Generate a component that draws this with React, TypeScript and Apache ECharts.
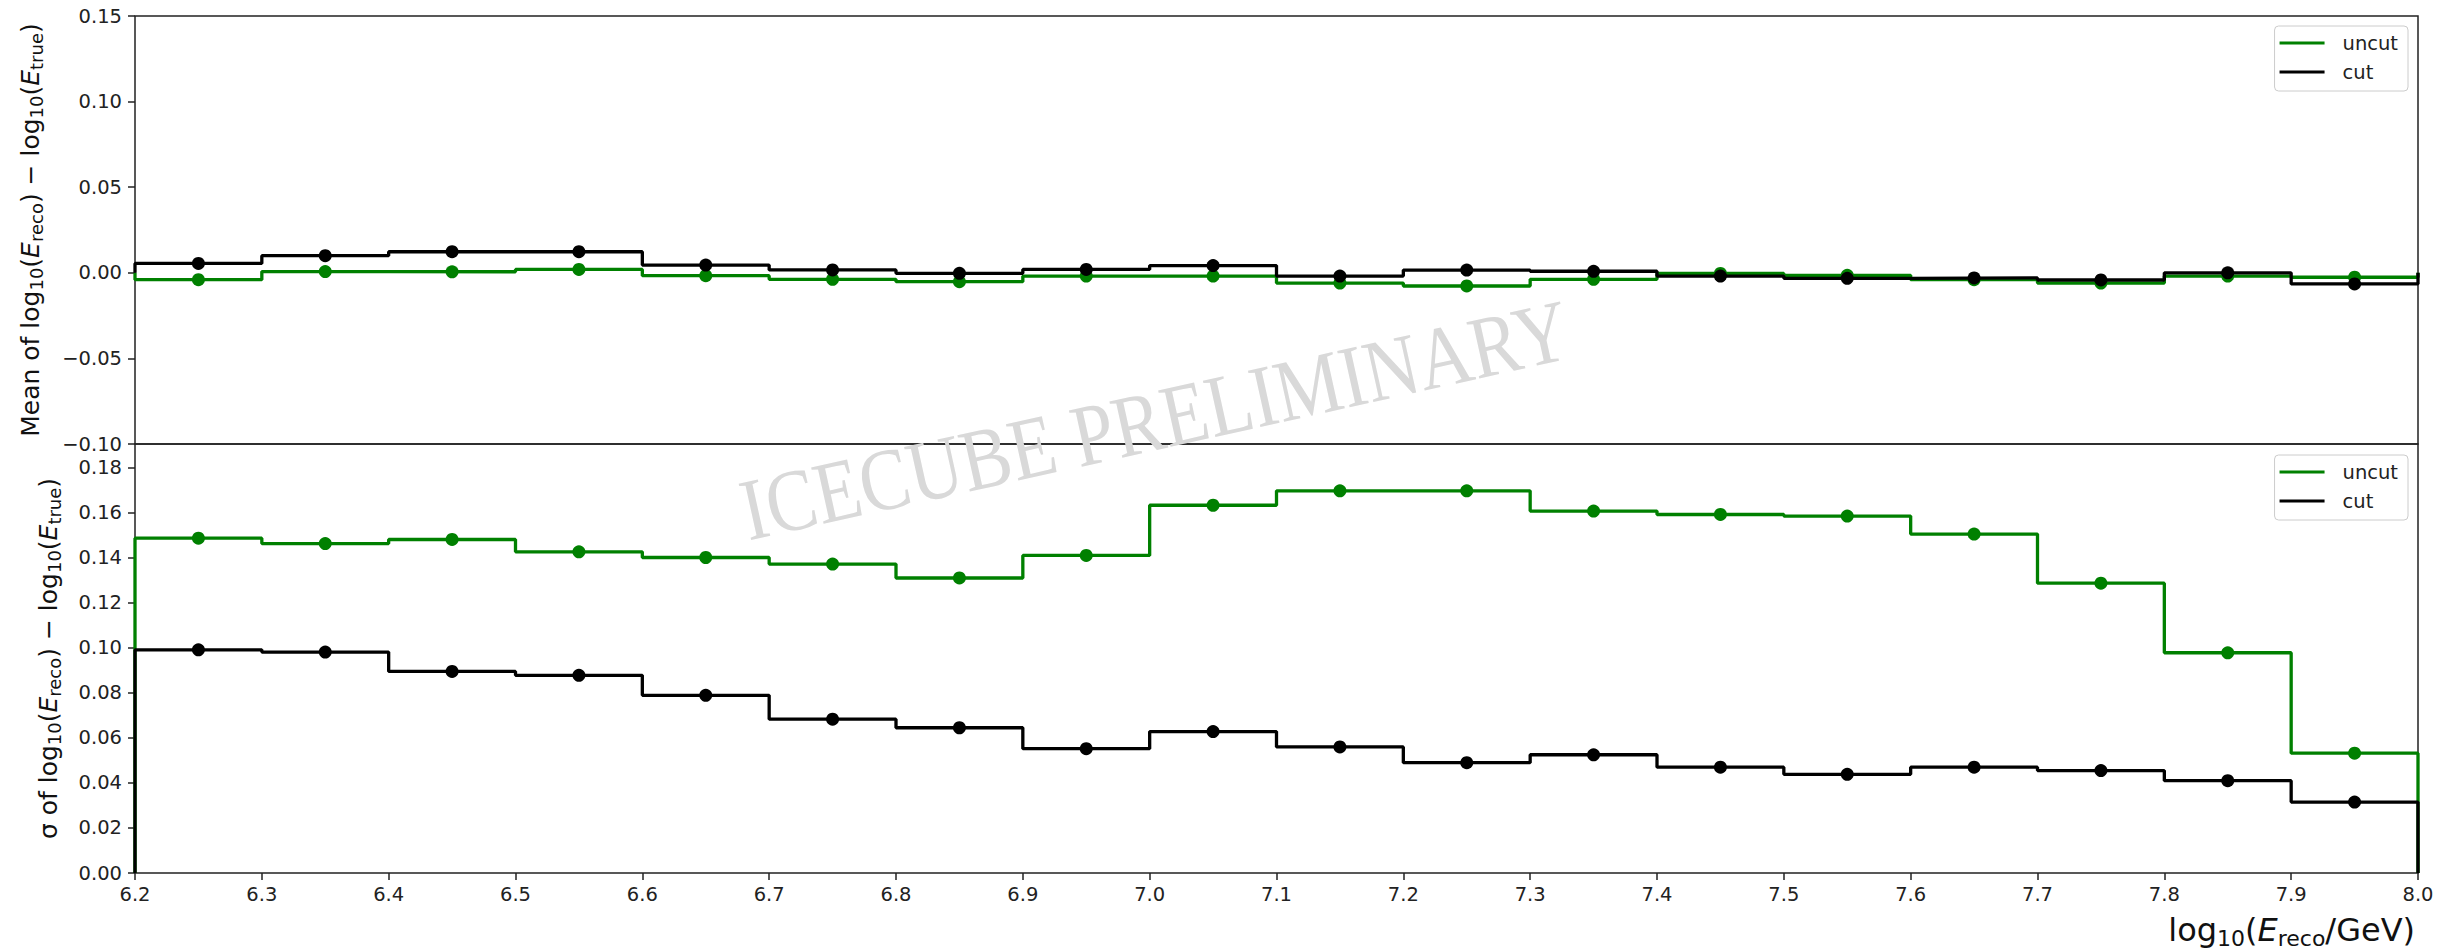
import React, { useEffect, useRef } from "react";
import * as echarts from "echarts";

// ---- data ----
const binCenters = [6.25, 6.35, 6.45, 6.55, 6.65, 6.75, 6.85, 6.95, 7.05, 7.15, 7.25, 7.35, 7.45, 7.55, 7.65, 7.75, 7.85, 7.95];
const binWidth = 0.1;

const meanUncut = [-0.0040, 0.0007, 0.0006, 0.0020, -0.0017, -0.0038, -0.0052, -0.0019, -0.0019, -0.0060, -0.0077, -0.0038, -0.0004, -0.0015, -0.0040, -0.0060, -0.0019, -0.0026];
const meanCut = [0.0055, 0.0100, 0.0123, 0.0123, 0.0045, 0.0017, -0.0003, 0.0020, 0.0042, -0.0019, 0.0016, 0.0009, -0.0019, -0.0032, -0.0030, -0.0042, 0.0000, -0.0065];

const sigmaUncut = [0.1487, 0.1463, 0.1481, 0.1426, 0.1401, 0.1372, 0.1310, 0.1410, 0.1633, 0.1697, 0.1697, 0.1607, 0.1592, 0.1585, 0.1505, 0.1287, 0.0978, 0.0532];
const sigmaCut = [0.0991, 0.0981, 0.0895, 0.0878, 0.0789, 0.0683, 0.0645, 0.0552, 0.0628, 0.0560, 0.0490, 0.0525, 0.0470, 0.0438, 0.0470, 0.0455, 0.0410, 0.0315];

const xTicks = { min: 6.2, max: 8.0, interval: 0.1 };
const meanTicks = { min: -0.1, max: 0.15, interval: 0.05 };
const sigmaTicks = { min: 0, max: 0.1905, interval: 0.02 };

const seriesNames = ["uncut", "cut"];
const seriesColors = ["#008000", "#000000"];
const watermark = "ICECUBE PRELIMINARY";

// histogram outline (step) built from centers and values
function outline(centers: number[], vals: number[], w: number): number[][] {
  const pts: number[][] = [];
  pts.push([centers[0] - w / 2, 0]);
  centers.forEach((c, i) => {
    pts.push([c - w / 2, vals[i]]);
    pts.push([c + w / 2, vals[i]]);
  });
  pts.push([centers[centers.length - 1] + w / 2, 0]);
  return pts;
}
function points(centers: number[], vals: number[]): number[][] {
  return centers.map((c, i) => [c, vals[i]]);
}

const FONT = "DejaVu Sans";
const minusFmt = (v: number, d: number) => {
  const s = Math.abs(v) < 1e-9 ? (0).toFixed(d) : Math.abs(v).toFixed(d);
  return v < -1e-9 ? "\u2212" + s : s;
};

export default function App() {
  const ref = useRef<HTMLDivElement>(null);
  useEffect(() => {
    if (!ref.current) return;
    const chart = echarts.init(ref.current, undefined, { renderer: "svg" });

    const L = 135, R = 35, T = 16, MID = 444, B = 873, W = 2453;

    const tickStyle = { color: "#222", fontSize: 19.5, fontFamily: FONT };
    const grids = [
      { left: L, right: R, top: T, height: MID - T, show: true, borderColor: "#222", borderWidth: 1.5, backgroundColor: "transparent" },
      { left: L, right: R, top: MID, height: B - MID, show: true, borderColor: "#222", borderWidth: 1.5, backgroundColor: "transparent" },
    ];

    const xAxisBase = {
      type: "value",
      min: xTicks.min,
      max: xTicks.max,
      interval: xTicks.interval,
      splitLine: { show: false },
      axisLine: { show: false },
    };

    const yAxisBase = {
      type: "value",
      splitLine: { show: false },
      axisLine: { show: false },
      axisTick: { show: true, inside: false, length: 7, lineStyle: { color: "#222", width: 1.5 } },
    };

    const mkLine = (name: string, color: string, data: number[][], ai: number, z: number) => ({
      type: "line",
      name,
      data,
      xAxisIndex: ai,
      yAxisIndex: ai,
      symbol: "none",
      showSymbol: false,
      lineStyle: { color, width: 3.3 },
      itemStyle: { color },
      z,
      silent: true,
    });
    const mkDots = (name: string, color: string, data: number[][], ai: number, z: number) => ({
      type: "scatter",
      name: name + "-pts",
      data,
      xAxisIndex: ai,
      yAxisIndex: ai,
      symbol: "circle",
      symbolSize: 13,
      itemStyle: { color, opacity: 1 },
      z,
      silent: true,
    });

    const legendBase = {
      orient: "vertical",
      right: 45,
      data: seriesNames,
      selectedMode: false,
      icon: "rect",
      itemWidth: 45,
      itemHeight: 3,
      itemGap: 9,
      padding: [7, 10, 9, 5],
      backgroundColor: "#fff",
      borderColor: "#ccc",
      borderWidth: 1,
      borderRadius: 4,
      textStyle: { color: "#222", fontSize: 19.5, fontFamily: FONT, padding: [0, 0, 0, 13], lineHeight: 20 },
    };

    const mainRich = (fs: number, lh: number) => ({
      a: { fontSize: fs, fontFamily: FONT, fill: "#111", lineHeight: lh, verticalAlign: "middle" },
      i: { fontSize: fs, fontFamily: FONT, fontStyle: "italic", fill: "#111", lineHeight: lh, verticalAlign: "middle" },
      s: { fontSize: Math.round(fs * 0.7), fontFamily: FONT, fill: "#111", lineHeight: Math.round(fs * 0.75), verticalAlign: "bottom" },
    });

    const option: any = {
      animation: false,
      backgroundColor: "#fff",
      grid: grids,
      xAxis: [
        { ...xAxisBase, gridIndex: 0, axisLabel: { show: false }, axisTick: { show: false } },
        {
          ...xAxisBase,
          gridIndex: 1,
          axisTick: { show: true, inside: false, length: 7, lineStyle: { color: "#222", width: 1.5 } },
          axisLabel: { ...tickStyle, margin: 11, formatter: (v: number) => v.toFixed(1) },
        },
      ],
      yAxis: [
        {
          ...yAxisBase,
          gridIndex: 0,
          min: meanTicks.min,
          max: meanTicks.max,
          interval: meanTicks.interval,
          axisLabel: { ...tickStyle, margin: 13, formatter: (v: number) => minusFmt(v, 2) },
        },
        {
          ...yAxisBase,
          gridIndex: 1,
          min: sigmaTicks.min,
          max: sigmaTicks.max,
          interval: sigmaTicks.interval,
          axisLabel: { ...tickStyle, margin: 13, showMaxLabel: false, formatter: (v: number) => v.toFixed(2) },
        },
      ],
      legend: [
        { ...legendBase, top: 26 },
        { ...legendBase, top: 455 },
      ],
      series: [
        mkLine(seriesNames[0], seriesColors[0], outline(binCenters, meanUncut, binWidth), 0, 2),
        mkDots(seriesNames[0], seriesColors[0], points(binCenters, meanUncut), 0, 3),
        mkLine(seriesNames[1], seriesColors[1], outline(binCenters, meanCut, binWidth), 0, 4),
        mkDots(seriesNames[1], seriesColors[1], points(binCenters, meanCut), 0, 5),
        mkLine(seriesNames[0], seriesColors[0], outline(binCenters, sigmaUncut, binWidth), 1, 2),
        mkDots(seriesNames[0], seriesColors[0], points(binCenters, sigmaUncut), 1, 3),
        mkLine(seriesNames[1], seriesColors[1], outline(binCenters, sigmaCut, binWidth), 1, 4),
        mkDots(seriesNames[1], seriesColors[1], points(binCenters, sigmaCut), 1, 5),
      ],
      graphic: [
        {
          type: "text",
          x: 1155,
          y: 420,
          rotation: (12.5 * Math.PI) / 180,
          scaleX: 0.85,
          z: 1,
          silent: true,
          style: {
            text: watermark,
            fontFamily: "Liberation Serif",
            fontSize: 88,
            fill: "#d9d9d9",
            align: "center",
            verticalAlign: "middle",
            textAlign: "center",
            textVerticalAlign: "middle",
          },
        },
        {
          type: "text",
          x: 30,
          y: (T + MID) / 2,
          rotation: Math.PI / 2,
          silent: true,
          style: {
            text: "{a|Mean of log}{s|10}{a|(}{i|E}{s|reco}{a|) \u2212 log}{s|10}{a|(}{i|E}{s|true}{a|)}",
            rich: mainRich(25, 31),
            align: "center",
            verticalAlign: "middle",
            textAlign: "center",
            textVerticalAlign: "middle",
          },
        },
        {
          type: "text",
          x: 48,
          y: (MID + B) / 2,
          rotation: Math.PI / 2,
          silent: true,
          style: {
            text: "{a|\u03c3 of log}{s|10}{a|(}{i|E}{s|reco}{a|) \u2212 log}{s|10}{a|(}{i|E}{s|true}{a|)}",
            rich: mainRich(25, 31),
            align: "center",
            verticalAlign: "middle",
            textAlign: "center",
            textVerticalAlign: "middle",
          },
        },
        {
          type: "text",
          x: W - R - 3,
          y: 930,
          silent: true,
          style: {
            text: "{a|log}{s|10}{a|(}{i|E}{s|reco}{a|/GeV)}",
            rich: mainRich(32, 38),
            align: "right",
            verticalAlign: "middle",
            textAlign: "right",
            textVerticalAlign: "middle",
          },
        },
      ],
    };

    chart.setOption(option);
    return () => chart.dispose();
  }, []);

  return (
    <div
      ref={ref}
      style={{ position: "absolute", left: 0, top: 0, width: 2453, height: 951, background: "#fff" }}
    />
  );
}
